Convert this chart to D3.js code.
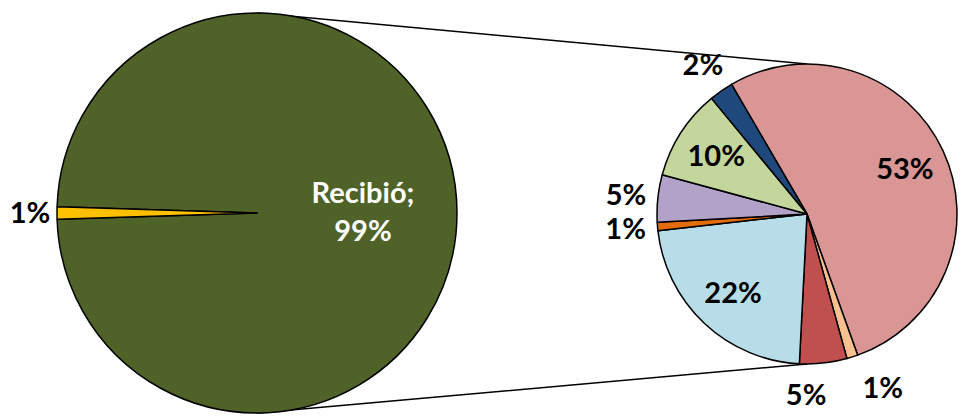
<!DOCTYPE html>
<html>
<head>
<meta charset="utf-8">
<script src="https://cdn.jsdelivr.net/npm/d3@7"></script>
<style>
  body { margin: 0; background: #fff; }
  text { font-family: Lato, "Open Sans", sans-serif; font-weight: bold; }
</style>
</head>
<body>
<svg id="chart" width="961" height="419"></svg>
<script>
// primary pie
var mainNames = ["Recibió", "Otros"];
var mainValues = [99, 1];
var mainColors = ["#4f6228", "#ffc000"];

// secondary pie (breakdown of "Otros"), clockwise from the top-right slice
var subNames = ["A", "B", "C", "D", "E", "F", "G", "H"];
var subValues = [52.9, 1.2, 5.1, 22.4, 0.9, 5.1, 9.8, 2.6];
var subLabels = ["53%", "1%", "5%", "22%", "1%", "5%", "10%", "2%"];
var subInside = [true, false, false, true, false, false, true, false];
var subColors = ["#d99694", "#fac090", "#c0504d", "#b7dee8", "#e46c0a", "#b3a2c7", "#c3d69b", "#1f497d"];

var svg = d3.select("#chart");
var fs = "29px";

var c1 = {x: 257, y: 213, r: 200},
    c2 = {x: 807, y: 214, r: 150};

// connector lines
svg.append("line")
    .attr("x1", c1.x).attr("y1", c1.y - c1.r)
    .attr("x2", c2.x).attr("y2", c2.y - c2.r)
    .attr("stroke", "#000").attr("stroke-width", 1.5);
svg.append("line")
    .attr("x1", c1.x).attr("y1", c1.y + c1.r)
    .attr("x2", c2.x).attr("y2", c2.y + c2.r)
    .attr("stroke", "#000").attr("stroke-width", 1.5);

// ---- main pie
var half = Math.PI * mainValues[1] / 100;
var pie1 = d3.pie().sort(null)
    .startAngle(-Math.PI / 2 + half)
    .endAngle(1.5 * Math.PI + half);

var arc1 = d3.arc().innerRadius(0).outerRadius(c1.r);
var g1 = svg.append("g").attr("transform", "translate(" + c1.x + "," + c1.y + ")");

var a1 = pie1(mainValues);
g1.selectAll("path").data(a1).enter().append("path")
    .attr("d", arc1)
    .attr("fill", function(d, i) { return mainColors[i]; })
    .attr("stroke", "#000").attr("stroke-width", 1.5)
    .attr("stroke-linejoin", "round");

var inLab1 = d3.arc().innerRadius(106).outerRadius(106);
var outLab1 = d3.arc().innerRadius(227).outerRadius(227);

var t0 = g1.append("text")
    .attr("transform", "translate(" + inLab1.centroid(a1[0]) + ")")
    .attr("text-anchor", "middle")
    .attr("fill", "#fff")
    .style("font-size", fs);
t0.append("tspan").attr("x", 0).attr("dy", "-0.35em").text(mainNames[0] + ";");
t0.append("tspan").attr("x", 0).attr("dy", 38).text(mainValues[0] + "%");

g1.append("text")
    .attr("transform", "translate(" + outLab1.centroid(a1[1]) + ")")
    .attr("text-anchor", "middle").attr("dy", "0.35em")
    .attr("fill", "#000")
    .style("font-size", fs)
    .text(mainValues[1] + "%");

// ---- secondary pie
var start2 = -30.2 * Math.PI / 180;
var pie2 = d3.pie().sort(null).startAngle(start2).endAngle(start2 + 2 * Math.PI);
var arc2 = d3.arc().innerRadius(0).outerRadius(c2.r);
var g2 = svg.append("g").attr("transform", "translate(" + c2.x + "," + c2.y + ")");

var a2 = pie2(subValues);
g2.selectAll("path").data(a2).enter().append("path")
    .attr("d", arc2)
    .attr("fill", function(d, i) { return subColors[i]; })
    .attr("stroke", "#000").attr("stroke-width", 1.5)
    .attr("stroke-linejoin", "round");

var inLab2 = d3.arc().innerRadius(108).outerRadius(108);
var outLab2 = d3.arc().innerRadius(182).outerRadius(182);

var pos = a2.map(function(d, i) {
    return (subInside[i] ? inLab2 : outLab2).centroid(d);
});

var labels = g2.selectAll("text.lbl").data(a2).enter().append("text")
    .attr("class", "lbl")
    .attr("text-anchor", "middle").attr("dy", "0.35em")
    .attr("fill", "#000")
    .style("font-size", fs)
    .text(function(d, i) { return subLabels[i]; });

var widths = [];
labels.each(function(d, i) { widths[i] = this.getComputedTextLength(); });

// spread outside labels that sit too close (like Excel's best fit)
for (var i = 0; i < a2.length; i++) {
    var j = (i + 1) % a2.length;
    if (subInside[i] || subInside[j]) continue;
    var need = (widths[i] + widths[j]) / 2 + 36;
    var dx = pos[i][0] - pos[j][0];
    var dy = Math.abs(pos[i][1] - pos[j][1]);
    if (dy < 26 && Math.abs(dx) < need) {
        var push = (need - Math.abs(dx)) / 2 * (dx >= 0 ? 1 : -1);
        pos[i][0] += push;
        pos[j][0] -= push;
    }
}

labels.attr("transform", function(d, i) { return "translate(" + pos[i] + ")"; });
</script>
</body>
</html>
